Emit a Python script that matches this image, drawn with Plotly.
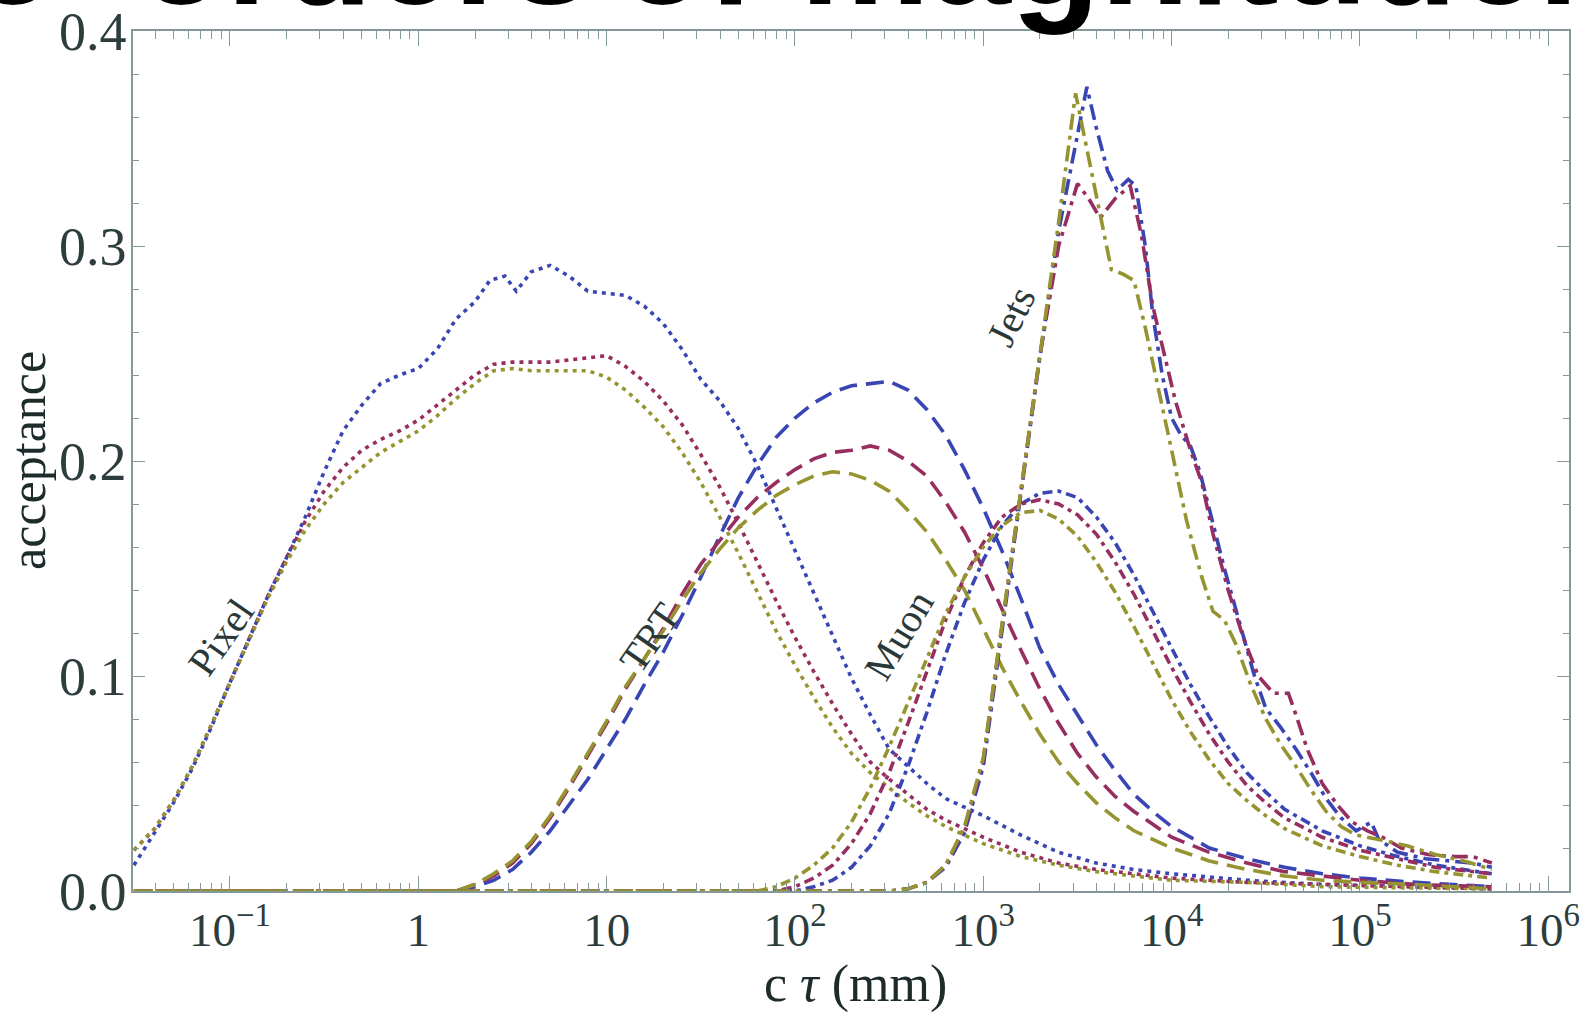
import numpy as np
import plotly.graph_objects as go

# ---- acceptance vs. decay length, four detector signatures x three samples ----
# positions are log10(c tau / mm)

# Pixel (dotted)
pixel_blue_logct = [-1.51, -1.4, -1.3, -1.2, -1.1, -1.0, -0.9, -0.8, -0.7, -0.6, -0.5, -0.4, -0.3, -0.2, -0.1,
                    0.0, 0.1, 0.2, 0.3, 0.38, 0.46, 0.52, 0.6, 0.7, 0.8, 0.9, 1.0, 1.1, 1.2, 1.3, 1.4, 1.5,
                    1.6, 1.7, 1.8, 1.9, 2.0, 2.1, 2.2, 2.3, 2.4, 2.5, 2.6, 2.7, 2.8, 2.9, 3.0, 3.2, 3.4, 3.6,
                    3.8, 4.0, 4.4, 4.8, 5.2, 5.7]
pixel_blue_acc = [0.012, 0.027, 0.041, 0.057, 0.076, 0.097, 0.117, 0.137, 0.155, 0.174, 0.195, 0.214, 0.226,
                  0.236, 0.240, 0.243, 0.252, 0.266, 0.274, 0.284, 0.286, 0.279, 0.288, 0.291, 0.286, 0.279,
                  0.278, 0.277, 0.272, 0.264, 0.252, 0.238, 0.228, 0.215, 0.198, 0.178, 0.158, 0.138, 0.118,
                  0.099, 0.082, 0.066, 0.058, 0.050, 0.043, 0.039, 0.035, 0.026, 0.018, 0.013, 0.010, 0.008,
                  0.005, 0.003, 0.002, 0.001]

pixel_red_logct = [-1.51, -1.4, -1.3, -1.2, -1.1, -1.0, -0.9, -0.8, -0.7, -0.6, -0.5, -0.4, -0.3, -0.2, -0.1,
                   0.0, 0.1, 0.2, 0.3, 0.4, 0.5, 0.6, 0.7, 0.8, 0.9, 1.0, 1.1, 1.2, 1.3, 1.4, 1.5, 1.6, 1.7,
                   1.8, 1.9, 2.0, 2.1, 2.2, 2.3, 2.4, 2.5, 2.6, 2.7, 2.8, 3.0, 3.2, 3.4, 3.6, 3.8, 4.0, 4.4,
                   4.8, 5.2, 5.7]
pixel_red_acc = [0.019, 0.029, 0.042, 0.058, 0.077, 0.097, 0.117, 0.137, 0.155, 0.172, 0.186, 0.197, 0.205,
                 0.210, 0.214, 0.219, 0.226, 0.233, 0.240, 0.245, 0.246, 0.246, 0.246, 0.247, 0.248, 0.249,
                 0.244, 0.237, 0.228, 0.217, 0.203, 0.188, 0.171, 0.153, 0.135, 0.118, 0.102, 0.087, 0.073,
                 0.060, 0.052, 0.045, 0.038, 0.033, 0.025, 0.018, 0.013, 0.010, 0.008, 0.006, 0.004, 0.003,
                 0.002, 0.001]

pixel_olive_logct = [-1.51, -1.4, -1.3, -1.2, -1.1, -1.0, -0.9, -0.8, -0.7, -0.6, -0.5, -0.4, -0.3, -0.2, -0.1,
                     0.0, 0.1, 0.2, 0.3, 0.4, 0.5, 0.6, 0.7, 0.8, 0.9, 1.0, 1.1, 1.2, 1.3, 1.4, 1.5, 1.6, 1.7,
                     1.8, 1.9, 2.0, 2.1, 2.2, 2.3, 2.4, 2.5, 2.6, 2.7, 2.8, 3.0, 3.2, 3.4, 3.6, 3.8, 4.0, 4.4,
                     4.8, 5.2, 5.7]
pixel_olive_acc = [0.019, 0.029, 0.042, 0.058, 0.077, 0.097, 0.117, 0.136, 0.153, 0.168, 0.180, 0.190, 0.197,
                   0.204, 0.209, 0.214, 0.221, 0.229, 0.236, 0.242, 0.243, 0.242, 0.242, 0.242, 0.242, 0.239,
                   0.233, 0.225, 0.216, 0.204, 0.190, 0.174, 0.157, 0.139, 0.121, 0.105, 0.090, 0.076, 0.064,
                   0.055, 0.048, 0.041, 0.035, 0.030, 0.022, 0.016, 0.012, 0.009, 0.007, 0.005, 0.004, 0.002,
                   0.0015, 0.001]

# TRT (dashed)
trt_logct = [-1.51, 0.2, 0.3, 0.4, 0.5, 0.6, 0.7, 0.8, 0.9, 1.0, 1.1, 1.2, 1.3, 1.4, 1.5, 1.6, 1.7, 1.8, 1.9,
             2.0, 2.1, 2.2, 2.3, 2.4, 2.5, 2.6, 2.7, 2.8, 2.9, 3.0, 3.1, 3.2, 3.3, 3.4, 3.5, 3.6, 3.7, 3.8,
             3.9, 4.0, 4.2, 4.4, 4.6, 4.8, 5.0, 5.3, 5.7]
trt_blue_acc = [0.0, 0.0, 0.002, 0.005, 0.010, 0.018, 0.028, 0.040, 0.052, 0.066, 0.080, 0.096, 0.111, 0.128,
                0.146, 0.165, 0.183, 0.198, 0.211, 0.220, 0.227, 0.232, 0.235, 0.236, 0.237, 0.233, 0.224,
                0.212, 0.196, 0.178, 0.158, 0.136, 0.113, 0.096, 0.082, 0.068, 0.056, 0.045, 0.037, 0.030,
                0.020, 0.015, 0.011, 0.008, 0.006, 0.004, 0.002]
trt_red_acc = [0.0, 0.0, 0.003, 0.007, 0.013, 0.022, 0.034, 0.048, 0.063, 0.078, 0.094, 0.108, 0.122, 0.138,
               0.152, 0.163, 0.174, 0.183, 0.190, 0.196, 0.201, 0.204, 0.205, 0.207, 0.205, 0.200, 0.193,
               0.181, 0.167, 0.150, 0.131, 0.112, 0.094, 0.078, 0.064, 0.053, 0.044, 0.037, 0.031, 0.025,
               0.018, 0.013, 0.009, 0.007, 0.005, 0.003, 0.002]
trt_olive_acc = [0.0, 0.0, 0.003, 0.008, 0.014, 0.023, 0.035, 0.049, 0.064, 0.079, 0.095, 0.108, 0.121, 0.135,
                 0.148, 0.159, 0.169, 0.177, 0.184, 0.189, 0.193, 0.195, 0.194, 0.191, 0.186, 0.177, 0.167,
                 0.154, 0.140, 0.122, 0.104, 0.088, 0.073, 0.060, 0.050, 0.041, 0.034, 0.028, 0.024, 0.020,
                 0.014, 0.010, 0.007, 0.005, 0.004, 0.003, 0.001]

# Muon spectrometer (dot-dashed)
muon_logct = [-1.51, 1.8, 1.9, 2.0, 2.1, 2.2, 2.3, 2.4, 2.5, 2.6, 2.7, 2.8, 2.9, 3.0, 3.1, 3.2, 3.3, 3.4, 3.5,
              3.6, 3.7, 3.8, 3.9, 4.0, 4.1, 4.2, 4.3, 4.4, 4.5, 4.6, 4.8, 5.0, 5.2, 5.4, 5.7]
muon_blue_acc = [0.0, 0.0, 0.0, 0.0, 0.002, 0.005, 0.011, 0.021, 0.036, 0.058, 0.083, 0.110, 0.134, 0.154,
                 0.170, 0.180, 0.185, 0.186, 0.183, 0.174, 0.162, 0.147, 0.130, 0.113, 0.096, 0.081, 0.067,
                 0.055, 0.046, 0.038, 0.028, 0.021, 0.016, 0.012, 0.008]
muon_red_acc = [0.0, 0.0, 0.0, 0.002, 0.006, 0.012, 0.022, 0.036, 0.055, 0.078, 0.102, 0.126, 0.146, 0.162,
                0.174, 0.180, 0.182, 0.180, 0.175, 0.166, 0.153, 0.138, 0.121, 0.104, 0.088, 0.073, 0.060,
                0.049, 0.041, 0.034, 0.025, 0.019, 0.015, 0.011, 0.008]
muon_olive_acc = [0.0, 0.0, 0.002, 0.006, 0.012, 0.020, 0.032, 0.048, 0.067, 0.087, 0.108, 0.129, 0.146, 0.160,
                  0.170, 0.176, 0.177, 0.173, 0.165, 0.153, 0.139, 0.123, 0.106, 0.089, 0.074, 0.061, 0.050,
                  0.042, 0.035, 0.029, 0.021, 0.016, 0.012, 0.009, 0.006]

# Jets (long dash-dot)
jets_blue_logct = [-1.51, 2.5, 2.6, 2.7, 2.8, 2.9, 3.0, 3.1, 3.2, 3.3, 3.4, 3.55, 3.6, 3.66, 3.71, 3.77, 3.81,
                   3.86, 3.9, 3.95, 4.0, 4.05, 4.1, 4.15, 4.2, 4.28, 4.36, 4.44, 4.5, 4.58, 4.66, 4.74, 4.82,
                   4.9, 4.98, 5.06, 5.1, 5.2, 5.35, 5.5, 5.6, 5.7]
jets_blue_acc = [0.0, 0.0, 0.001, 0.004, 0.011, 0.027, 0.058, 0.120, 0.185, 0.248, 0.307, 0.374, 0.355, 0.335,
                 0.326, 0.331, 0.328, 0.300, 0.268, 0.240, 0.220, 0.212, 0.207, 0.195, 0.178, 0.150, 0.125,
                 0.100, 0.085, 0.076, 0.066, 0.055, 0.043, 0.034, 0.028, 0.032, 0.024, 0.018, 0.015, 0.014,
                 0.013, 0.011]
jets_red_logct = [-1.51, 2.5, 2.6, 2.7, 2.8, 2.9, 3.0, 3.1, 3.2, 3.3, 3.4, 3.5, 3.56, 3.62, 3.7, 3.78, 3.84,
                  3.9, 3.96, 4.02, 4.1, 4.16, 4.22, 4.3, 4.38, 4.46, 4.54, 4.62, 4.66, 4.72, 4.8, 4.88, 4.96,
                  5.04, 5.12, 5.22, 5.36, 5.5, 5.6, 5.7]
jets_red_acc = [0.0, 0.0, 0.001, 0.004, 0.012, 0.029, 0.061, 0.124, 0.187, 0.249, 0.300, 0.329, 0.322, 0.313,
                0.322, 0.328, 0.305, 0.272, 0.250, 0.228, 0.205, 0.190, 0.166, 0.140, 0.118, 0.100, 0.092,
                0.092, 0.082, 0.066, 0.050, 0.040, 0.032, 0.028, 0.025, 0.020, 0.017, 0.016, 0.016, 0.013]
jets_olive_logct = [-1.51, 2.5, 2.6, 2.7, 2.8, 2.9, 3.0, 3.1, 3.2, 3.3, 3.4, 3.49, 3.55, 3.62, 3.68, 3.74,
                    3.8, 3.86, 3.92, 4.0, 4.08, 4.16, 4.22, 4.28, 4.34, 4.42, 4.5, 4.58, 4.66, 4.74, 4.82,
                    4.9, 4.98, 5.1, 5.25, 5.4, 5.55, 5.7]
jets_olive_acc = [0.0, 0.0, 0.001, 0.004, 0.012, 0.030, 0.062, 0.125, 0.187, 0.249, 0.311, 0.371, 0.345,
                  0.313, 0.289, 0.287, 0.284, 0.262, 0.238, 0.205, 0.172, 0.146, 0.130, 0.126, 0.115, 0.096,
                  0.080, 0.068, 0.058, 0.047, 0.037, 0.030, 0.026, 0.024, 0.021, 0.017, 0.014, 0.010]

# signature labels: (text, log10 c tau, acceptance, angle)
curve_labels = [("Pixel", -1.05, 0.118, -55), ("TRT", 1.23, 0.118, -55),
                ("Muon", 2.55, 0.119, -59), ("Jets", 3.15, 0.267, -64)]

# heading words and their anchor columns (px) on the page
heading_words = ["two", "orders", "of", "magnitude."]
heading_x = [58, 137, 618, 800]
heading_pos = ["top left", "top right", "top right", "top right"]

# sample colours and per-signature dash patterns
BLUE, RED, OLIVE = "#3a45b4", "#962e60", "#969430"
DOT = "4px,5px"
DASH = "18px,9px"
DOTDASH = "10px,5px,4px,5px"
LONGDOTDASH = "16px,6px,4px,6px"
LW = 3.6

curves = [
    (pixel_blue_logct, pixel_blue_acc, BLUE, DOT),
    (pixel_red_logct, pixel_red_acc, RED, DOT),
    (pixel_olive_logct, pixel_olive_acc, OLIVE, DOT),
    (trt_logct, trt_blue_acc, BLUE, DASH),
    (trt_logct, trt_red_acc, RED, DASH),
    (trt_logct, trt_olive_acc, OLIVE, DASH),
    (muon_logct, muon_blue_acc, BLUE, DOTDASH),
    (muon_logct, muon_red_acc, RED, DOTDASH),
    (muon_logct, muon_olive_acc, OLIVE, DOTDASH),
    (jets_blue_logct, jets_blue_acc, BLUE, LONGDOTDASH),
    (jets_red_logct, jets_red_acc, RED, LONGDOTDASH),
    (jets_olive_logct, jets_olive_acc, OLIVE, LONGDOTDASH),
]

# page geometry (px): the plot frame sits inside a page with no margins,
# so that the slide heading above it can run off the top edge and be clipped
W, H = 1590, 1017
FX0, FX1, FY0, FY1 = 133, 1569, 31, 891   # frame left/right/top/bottom
STRIP = 80                                # height of the heading strip

fig = go.Figure()
for logct, acc, color, dash in curves:
    fig.add_trace(go.Scatter(
        x=np.power(10.0, logct), y=acc, mode="lines",
        line=dict(color=color, width=LW, dash=dash),
        showlegend=False, hoverinfo="skip", xaxis="x", yaxis="y",
    ))

# slide heading, only its lower part shows in a strip along the top edge;
# the first word ends at its anchor, the others start at theirs
BIG = dict(family="Liberation Sans", size=146, color="black", weight="bold")
fig.add_trace(go.Scatter(
    x=heading_x, y=[40] * len(heading_x), mode="text", text=heading_words,
    textposition=heading_pos, textfont=BIG,
    cliponaxis=True, showlegend=False, hoverinfo="skip", xaxis="x2", yaxis="y2",
))

# axes
FRAME = "#83999a"
TICKTXT = "#2d3d3d"
SERIF = "Liberation Serif"

decades = [1e-1, 1, 10, 1e2, 1e3, 1e4, 1e5, 1e6]
decade_text = ["10<sup>\u22121</sup>", "1", "10", "10<sup>2</sup>", "10<sup>3</sup>",
               "10<sup>4</sup>", "10<sup>5</sup>", "10<sup>6</sup>"]
minor_x = [m * 10.0 ** e for e in range(-2, 6) for m in range(2, 10) if 0.031 < m * 10.0 ** e < 1.2e6]

y_major = [0.0, 0.1, 0.2, 0.3, 0.4]
y_major_text = ["0.0", "0.1", "0.2", "0.3", "0.4"]
y_minor = [0.02, 0.04, 0.06, 0.08, 0.12, 0.14, 0.16, 0.18, 0.22, 0.24, 0.26, 0.28, 0.32, 0.34, 0.36, 0.38]

fig.update_layout(
    xaxis=dict(
        domain=[FX0 / W, FX1 / W], anchor="y", automargin=False,
        type="log", range=[-1.515, 6.11],
        tickmode="array", tickvals=decades, ticktext=decade_text,
        ticks="inside", ticklen=15, tickwidth=1.2, tickcolor=FRAME,
        showline=True, linecolor=FRAME, linewidth=1.5, mirror="ticks",
        showgrid=False, zeroline=False,
        tickfont=dict(family=SERIF, size=47, color=TICKTXT),
        ticklabelstandoff=-3,
        minor=dict(tickmode="array", tickvals=minor_x, ticks="inside", ticklen=8,
                   tickwidth=1, tickcolor=FRAME, showgrid=False),
    ),
    yaxis=dict(
        domain=[(H - FY1) / H, (H - FY0) / H], anchor="x", automargin=False,
        range=[0, 0.4],
        tickmode="array", tickvals=y_major, ticktext=y_major_text,
        ticks="inside", ticklen=12, tickwidth=1.2, tickcolor=FRAME,
        showline=True, linecolor=FRAME, linewidth=1.5, mirror="ticks",
        showgrid=False, zeroline=False,
        tickfont=dict(family=SERIF, size=54, color=TICKTXT),
        ticklabelstandoff=-6,
        minor=dict(tickmode="array", tickvals=y_minor, ticks="inside", ticklen=6,
                   tickwidth=1, tickcolor=FRAME, showgrid=False),
    ),
    # pixel-unit strip across the top of the page for the heading
    xaxis2=dict(domain=[0, 1], range=[0, W], autorange=False, visible=False, anchor="y2",
                fixedrange=True, automargin=False),
    yaxis2=dict(domain=[1 - STRIP / H, 1], range=[STRIP, 0], autorange=False, visible=False,
                anchor="x2", fixedrange=True, automargin=False),
)

annotations = []
for text, lx, ly, ang in curve_labels:
    annotations.append(dict(x=lx, y=ly, xref="x", yref="y", text=text, textangle=ang,
                            showarrow=False, font=dict(family=SERIF, size=40, color="#2b3838")))

# axis titles
annotations += [
    dict(xref="paper", yref="paper", x=855 / W, y=(H - 984) / H, text="c <i>\u03c4</i> (mm)",
         showarrow=False, xanchor="center", yanchor="middle",
         font=dict(family=SERIF, size=52, color="#1e2b2b")),
    dict(xref="paper", yref="paper", x=28 / W, y=(H - 461) / H, text="acceptance", textangle=-90,
         showarrow=False, xanchor="center", yanchor="middle",
         font=dict(family=SERIF, size=50, color="#1e2b2b")),
]

fig.update_layout(
    width=W, height=H,
    margin=dict(l=0, r=0, t=0, b=0, autoexpand=False),
    paper_bgcolor="white", plot_bgcolor="rgba(0,0,0,0)",
    annotations=annotations,
)

fig.write_html("out.html")
